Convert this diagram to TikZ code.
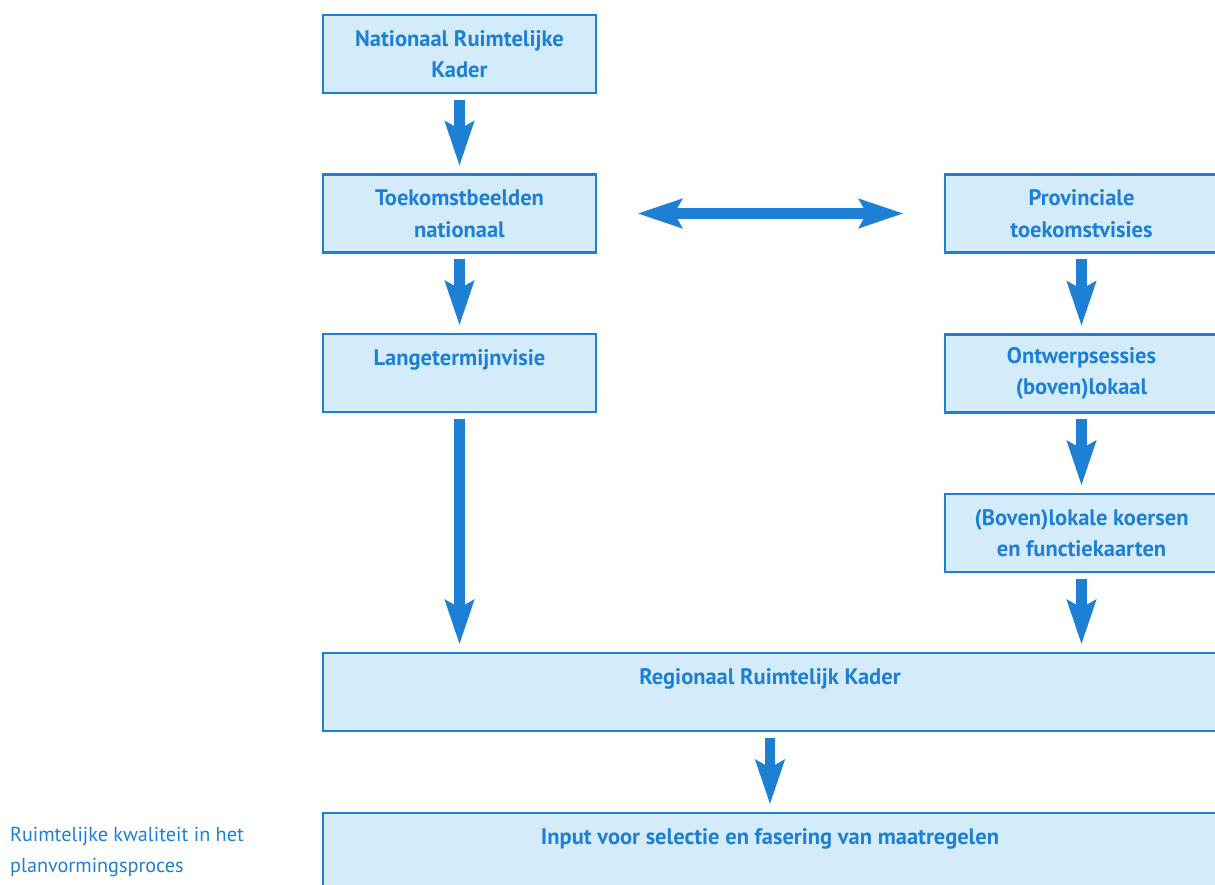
\documentclass[tikz,border=0pt]{standalone}
\usepackage{fontspec}
\setmainfont{PT Sans}
\usepackage{tikz}
\usetikzlibrary{arrows.meta}
\definecolor{kaderblauw}{RGB}{30,128,212}
\definecolor{kadervlak}{RGB}{212,236,250}
\tikzset{
    kader/.style={draw=kaderblauw,line width=1.6pt,fill=kadervlak,text=kaderblauw,
        font=\bfseries\fontsize{12.8}{18}\selectfont,align=center,
        minimum width=5.46cm,minimum height=1.56cm},
    breed/.style={kader,minimum width=17.88cm},
    pijl/.style={draw=kaderblauw,line width=5.7pt,
        -{Stealth[length=25pt,width=16pt,inset=4pt]},shorten <=3pt,shorten >=4pt},
}

\begin{document}
\begin{tikzpicture}[x=0.02cm,y=-0.02cm]
        \useasboundingbox (0,0) rectangle (1215,885);
        \clip (0,0) rectangle (1215,885);
        % linker kolom
        \node[kader](nrk) at (459.5,54){Nationaal Ruimtelijke\\Kader};
        \node[kader](tbn) at (459.5,213.5){Toekomstbeelden\\nationaal};
        \node[kader](ltv) at (459.5,373){Langetermijnvisie\\~};
        % rechter kolom
        \node[kader](ptv) at (1081.5,213.5){Provinciale\\toekomstvisies};
        \node[kader](ows) at (1081.5,373.5){Ontwerpsessies\\(boven)lokaal};
        \node[kader](bvk) at (1081.5,533){(Boven)lokale koersen\\en functiekaarten};
        % brede kaders
        \node[breed](rrk) at (770,692){Regionaal Ruimtelijk Kader\\~};
        \node[breed](ivs) at (770,852){Input voor selectie en fasering van maatregelen\\~};
        \node[anchor=west,align=left,text=kaderblauw,font=\fontsize{11.5}{18}\selectfont](bijschrift)
            at (4,852){Ruimtelijke kwaliteit in het\\planvormingsproces};
        \draw[pijl](nrk)--(tbn);
        \draw[pijl](tbn)--(ltv);
        \draw[pijl](ltv)--(ltv|-rrk.north);
        \draw[pijl](ptv)--(ows);
        \draw[pijl](ows)--(bvk);
        \draw[pijl](bvk)--(bvk|-rrk.north);
        \draw[pijl](rrk)--(ivs);
        \draw[pijl,{Stealth[length=25pt,width=16pt,inset=4pt]}-{Stealth[length=25pt,width=16pt,inset=4pt]},
            shorten <=0.8cm,shorten >=0.8cm](tbn)--(ptv);
    \end{tikzpicture}
\end{document}
